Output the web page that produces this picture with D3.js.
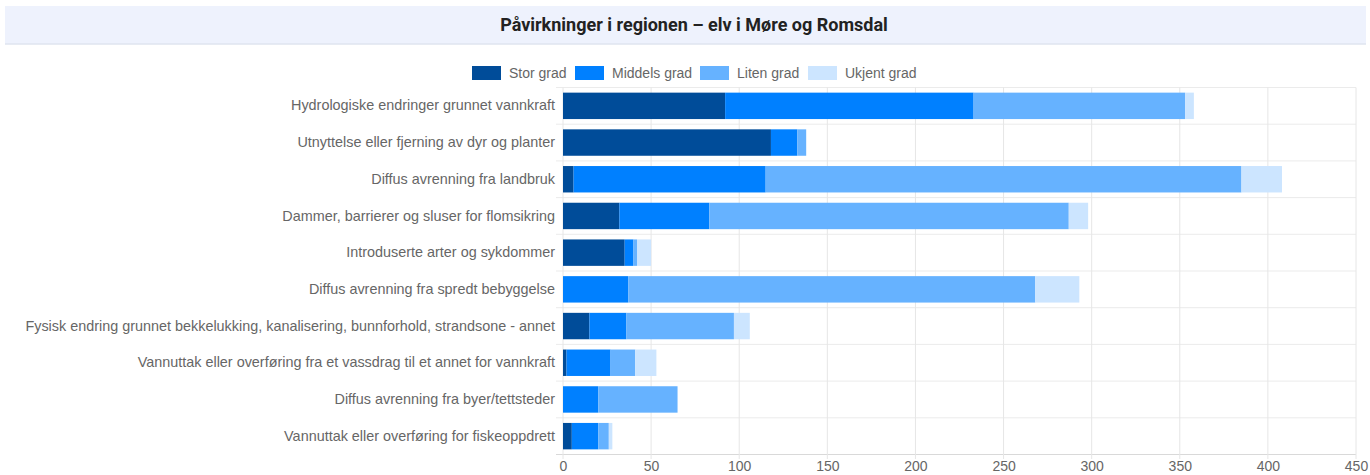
<!DOCTYPE html>
<html>
<head>
<meta charset="utf-8">
<script src="https://cdn.jsdelivr.net/npm/d3@7"></script>
<style>
  html, body { margin: 0; padding: 0; background: #fff; }
  svg { display: block; }
  text { font-family: "Liberation Sans", Arial, sans-serif; }
</style>
</head>
<body>
<svg id="chart" width="1370" height="475"></svg>
<script>
const title = "Påvirkninger i regionen – elv i Møre og Romsdal";
const categories = [
  "Hydrologiske endringer grunnet vannkraft",
  "Utnyttelse eller fjerning av dyr og planter",
  "Diffus avrenning fra landbruk",
  "Dammer, barrierer og sluser for flomsikring",
  "Introduserte arter og sykdommer",
  "Diffus avrenning fra spredt bebyggelse",
  "Fysisk endring grunnet bekkelukking, kanalisering, bunnforhold, strandsone - annet",
  "Vannuttak eller overføring fra et vassdrag til et annet for vannkraft",
  "Diffus avrenning fra byer/tettsteder",
  "Vannuttak eller overføring for fiskeoppdrett"
];
const seriesNames = ["Stor grad", "Middels grad", "Liten grad", "Ukjent grad"];
const storGrad    = [92, 118, 6, 32, 35, 0, 15, 2, 0, 5];
const middelsGrad = [141, 15, 109, 51, 5, 37, 21, 25, 20, 15];
const litenGrad   = [120, 5, 270, 204, 2, 231, 61, 14, 45, 6];
const ukjentGrad  = [5, 0, 23, 11, 8, 25, 9, 12, 0, 2];
const colors = ["#004c99", "#0080ff", "#66b2ff", "#cce5ff"];
const xTicks = [0, 50, 100, 150, 200, 250, 300, 350, 400, 450];

const svg = d3.select("#chart");

// Title band
svg.append("rect").attr("x", 5).attr("y", 6).attr("width", 1361).attr("height", 38)
  .attr("fill", "#eef2fd");
svg.append("line").attr("x1", 5).attr("x2", 1366).attr("y1", 44).attr("y2", 44)
  .attr("stroke", "#dfe4ef").attr("stroke-width", 1.5);
svg.append("text").attr("x", 694).attr("y", 25).attr("dy", "0.35em")
  .attr("text-anchor", "middle").attr("font-size", 18).attr("font-weight", "bold")
  .attr("fill", "#222").style("font-family", "Roboto, 'Liberation Sans', sans-serif")
  .text(title);

const x = d3.scaleLinear().domain([0, 450]).range([563, 1356]);
const y = d3.scaleBand().domain(categories).range([87.5, 454.5])
  .paddingInner(0.28).paddingOuter(0.14);

// stacked data
const table = categories.map((c, i) => ({
  cat: c, "Stor grad": storGrad[i], "Middels grad": middelsGrad[i],
  "Liten grad": litenGrad[i], "Ukjent grad": ukjentGrad[i]
}));
const stack = d3.stack().keys(seriesNames)(table);

// grid
const g = svg.append("g");
const step = y.step();
const y0 = y.range()[0];
for (let i = 0; i <= categories.length; i++) {
  const yy = y0 + i * step;
  g.append("line").attr("x1", 556).attr("x2", 1356).attr("y1", yy).attr("y2", yy)
    .attr("stroke", i === categories.length ? "#d9d9d9" : "#ebebeb").attr("stroke-width", 1);
}
xTicks.forEach(t => {
  g.append("line").attr("x1", x(t)).attr("x2", x(t)).attr("y1", y0).attr("y2", 459)
    .attr("stroke", "#e6e6e6").attr("stroke-width", 1);
});

// bars
svg.append("g").selectAll("g").data(stack).join("g")
  .attr("fill", (d, i) => colors[i])
  .selectAll("rect").data(d => d).join("rect")
  .attr("x", d => x(d[0]))
  .attr("width", d => Math.max(0, x(d[1]) - x(d[0])))
  .attr("y", d => y(d.data.cat))
  .attr("height", y.bandwidth());

// x axis
const xAxis = svg.append("g").attr("transform", "translate(0,459)")
  .call(d3.axisBottom(x).tickValues(xTicks).tickSize(0).tickPadding(2));
xAxis.select(".domain").remove();
xAxis.selectAll("text").attr("font-size", 14).attr("fill", "#666")
  .style("font-family", "'Liberation Sans', Arial, sans-serif");

// y axis
const yAxis = svg.append("g").attr("transform", "translate(563,0)")
  .call(d3.axisLeft(y).tickSize(0).tickPadding(8));
yAxis.select(".domain").remove();
yAxis.selectAll("text").attr("font-size", 14.4).attr("fill", "#666")
  .style("font-family", "'Liberation Sans', Arial, sans-serif");

// legend
const legendItems = [
  { name: "Stor grad", x: 472 },
  { name: "Middels grad", x: 575 },
  { name: "Liten grad", x: 700 },
  { name: "Ukjent grad", x: 808 }
];
const lg = svg.append("g");
legendItems.forEach((it, i) => {
  lg.append("rect").attr("x", it.x).attr("y", 66).attr("width", 29).attr("height", 14)
    .attr("fill", colors[i]);
  lg.append("text").attr("x", it.x + 37).attr("y", 73).attr("dy", "0.35em")
    .attr("font-size", 14).attr("fill", "#666").text(it.name);
});
</script>
</body>
</html>
